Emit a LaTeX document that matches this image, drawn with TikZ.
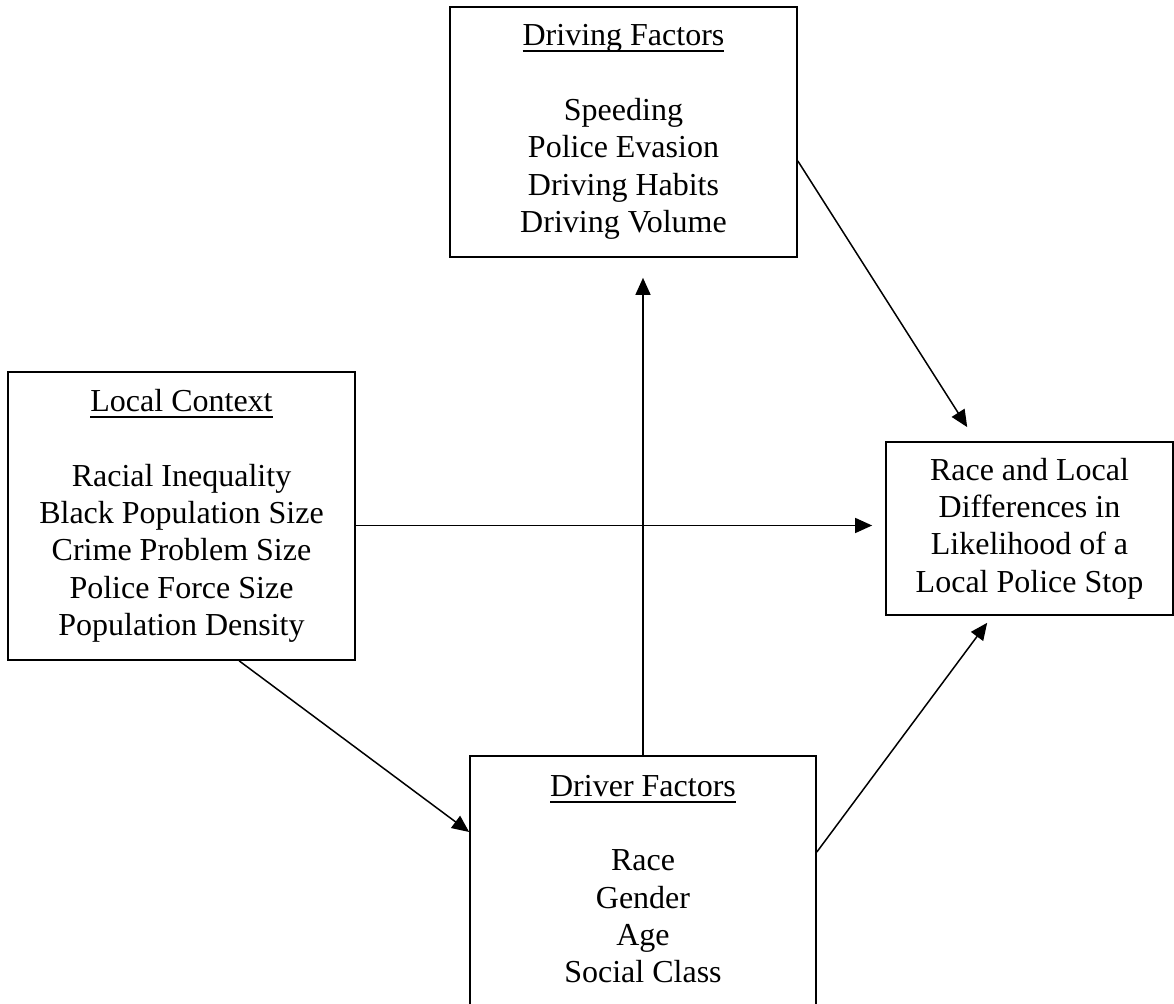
\documentclass[tikz,border=0pt]{standalone}
\usepackage{fontspec}
\setmainfont{Liberation Serif}
\usetikzlibrary{arrows.meta,calc}
\newcommand\ulin[1]{\setbox0\hbox{#1}\rlap{\rule[-3.2pt]{\wd0}{0.9pt}}\box0}
\begin{document}
\begin{tikzpicture}[x=0.5pt,y=-0.5pt,
  box/.style={draw, line width=0.85pt, rectangle, inner sep=0pt},
  txt/.style={align=center, font=\fontsize{16}{18.65}\selectfont, inner sep=0pt},
  arr/.style={line width=0.75pt, -{Triangle[length=8.5pt,width=7.5pt]}}]
\useasboundingbox (0,0) rectangle (1174,1004);
\clip (0,0) rectangle (1174,1004);
% boxes
\node[box, minimum width=173.5pt, minimum height=125pt] (df) at (623.5,132) {};
\node[box, minimum width=173.5pt, minimum height=144pt] (lc) at (181.5,516) {};
\node[box, minimum width=143.5pt, minimum height=86.5pt] (out) at (1029.5,528.5) {};
\node[box, minimum width=173pt, minimum height=128pt] (drv) at (643,884) {};
% texts
\node[txt] (dft) at (623.5,132) {\ulin{Driving Factors}\\[18.65pt]Speeding\\Police Evasion\\Driving Habits\\Driving Volume};
\node[txt] (lct) at (181.5,516) {\ulin{Local Context}\\[18.65pt]Racial Inequality\\Black Population Size\\Crime Problem Size\\Police Force Size\\Population Density};
\node[txt] (outt) at (1029.5,528.5) {Race and Local\\Differences in\\Likelihood of a\\Local Police Stop};
\node[txt] (drvt) at (643,879) {\ulin{Driver Factors}\\[18.65pt]Race\\Gender\\Age\\Social Class};
% connectors
\coordinate (hy) at (0,525.5);
\draw[arr, shorten >=6.5pt] (lc.east |- hy) -- (out.west |- hy);
\draw[arr, shorten >=10pt] (drv.north) -- (drv.north |- df.south);
\draw[arr] ([xshift=116pt]lc.south west) -- ([yshift=26pt]drv.west);
\draw[arr, shorten >=8.3pt] ([yshift=-14.5pt]df.east) -- ([xshift=45.5pt]out.north west);
\draw[arr, shorten >=4.35pt] ([yshift=16pt]drv.east) -- ([xshift=53.6pt]out.south west);
\end{tikzpicture}
\end{document}
